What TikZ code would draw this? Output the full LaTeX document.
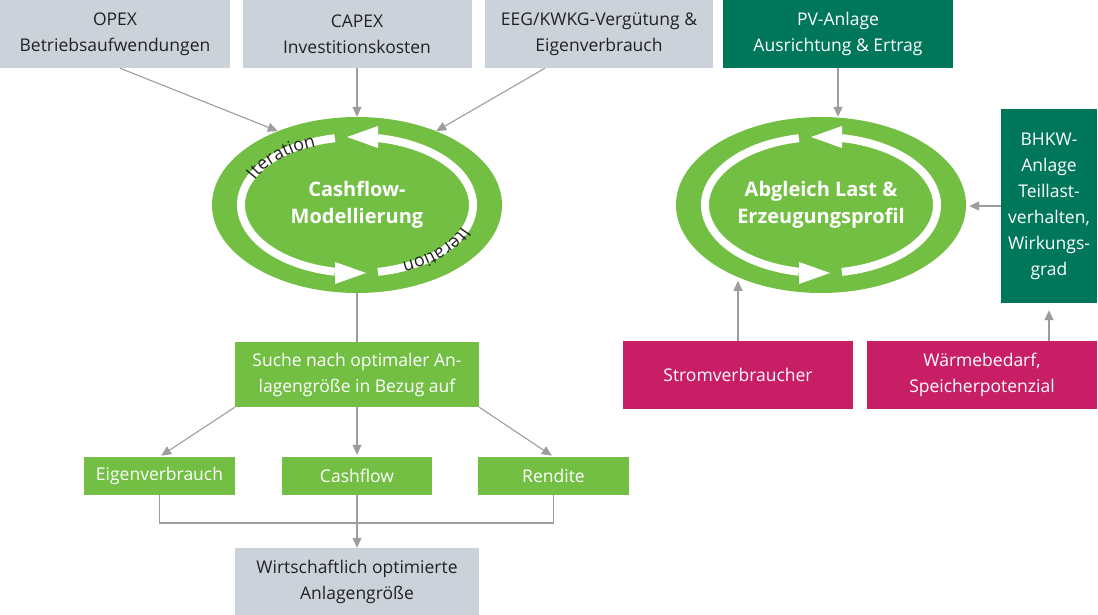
\documentclass[tikz,border=0pt]{standalone}
\usepackage{fontspec}
\setmainfont{Open Sans}
\usetikzlibrary{arrows.meta,shapes.geometric,decorations.text,calc}
\definecolor{boxgray}{HTML}{CBD2D9}
\definecolor{lightgreen}{HTML}{72BF44}
\definecolor{darkgreen}{HTML}{00775A}
\definecolor{magentabox}{HTML}{C81E65}
\definecolor{linegray}{HTML}{9D9D9D}
\definecolor{textdark}{HTML}{222222}
\tikzset{
  box/.style={rectangle, inner sep=2pt, align=center, font=\fontsize{17.5}{26}\selectfont},
  graybox/.style={box, fill=boxgray, text=textdark},
  dgbox/.style={box, fill=darkgreen, text=white},
  lgbox/.style={box, fill=lightgreen, text=white},
  mgbox/.style={box, fill=magentabox, text=white},
  arr/.style={draw=linegray, line width=1.1pt, -{Triangle[length=10pt,width=9pt]}},
  conn/.style={draw=linegray, line width=1.1pt},
  cyc/.style={ellipse, fill=lightgreen, minimum width=290pt, minimum height=176pt, inner sep=0pt, text=white, align=center, font=\bfseries\fontsize{20}{27}\selectfont},
  ringline/.style={draw=white, line width=8pt},
  itertext/.style={decorate, decoration={text along path, text align=center,
     text={|\fontsize{18}{18}\selectfont\color{textdark}|Iteration}}}
}
\newcommand\myring[1]{%
  \begin{scope}[shift={(#1.center)}]
    \draw[ringline] (-79.6:116pt and 68pt) arc[start angle=-79.6, end angle=79.6, x radius=116pt, y radius=68pt];
    \fill[white] (-10pt,68pt) -- (21pt,79pt) -- (21pt,57pt) -- cycle;
    \draw[ringline] (101:116pt and 68pt) arc[start angle=101, end angle=259, x radius=116pt, y radius=68pt];
    \fill[white] (9pt,-68pt) -- (-22pt,-57pt) -- (-22pt,-79pt) -- cycle;
  \end{scope}}
\begin{document}
\begin{tikzpicture}[x=1pt,y=1pt]
\useasboundingbox (0,0) rectangle (1098,-615);
% top boxes
\node[graybox, minimum width=230pt, minimum height=68pt] (opex) at (115,-34) {OPEX\\Betriebsaufwendungen};
\node[graybox, minimum width=229pt, minimum height=68pt] (capex) at (357,-34) {CAPEX\\Investitionskosten};
\node[graybox, minimum width=228pt, minimum height=68pt] (eeg) at (599,-34) {EEG/KWKG-Vergütung \&\\Eigenverbrauch};
\node[dgbox, minimum width=230pt, minimum height=68pt] (pv) at (838,-34) {PV-Anlage\\Ausrichtung \& Ertrag};
\node[dgbox, minimum width=96pt, minimum height=194pt] (bhkw) at (1049,-206) {BHKW-\\Anlage\\Teillast-\\verhalten,\\Wirkungs-\\grad};
% cycles
\node[cyc] (cf) at (357,-205) {Cashflow-\\Modellierung};
\node[cyc] (ab) at (821,-205) {Abgleich Last \&\\Erzeugungsprofil};
\myring{cf}
\myring{ab}
\path[itertext] ($(cf.center)+(161:111pt and 63pt)$) arc[start angle=161, end angle=109, x radius=111pt, y radius=63pt];
\path[itertext] ($(cf.center)+(-15:111pt and 63pt)$) arc[start angle=-15, end angle=-69, x radius=111pt, y radius=63pt];
% lower boxes
\node[mgbox, minimum width=230pt, minimum height=68pt] (strom) at (738,-375) {Stromverbraucher};
\node[mgbox, minimum width=230pt, minimum height=68pt] (waerme) at (982,-375) {Wärmebedarf,\\Speicherpotenzial};
\node[lgbox, minimum width=244pt, minimum height=65pt] (suche) at (357,-374.5) {Suche nach optimaler An-\\lagengröße in Bezug auf};
\node[lgbox, minimum width=151pt, minimum height=38pt] (eigen) at (159.5,-476) {Eigenverbrauch};
\node[lgbox, minimum width=150pt, minimum height=38pt] (cash) at (357,-476) {Cashflow};
\node[lgbox, minimum width=151pt, minimum height=38pt] (rendite) at (553.5,-476) {Rendite};
\node[graybox, minimum width=244pt, minimum height=67pt] (wirt) at (357,-581.5) {Wirtschaftlich optimierte\\Anlagengröße};
% connectors
\draw[arr] ($(opex.south)+(5,0)$) -- (cf.137);
\draw[arr] (capex.south) -- (cf.north);
\draw[arr] ($(eeg.south)+(-54,0)$) -- (cf.43);
\draw[arr] (pv.south) -- (pv.south |- ab.north);
\draw[arr, shorten >=3pt] (bhkw.west) -- (bhkw.west -| ab.east);
\draw[arr] (strom.north) -- ($(strom.north)+(0,60)$);
\draw[arr, shorten >=7pt] (waerme.north -| bhkw.south) -- (bhkw.south);
\draw[conn] (cf.south) -- (suche.north);
\draw[arr, shorten >=2pt] (suche.south west) -- (eigen.north);
\draw[arr, shorten >=2pt] (suche.south) -- (cash.north);
\draw[arr, shorten >=2pt] (suche.south east) -- (rendite.north);
\coordinate (j) at (357,-523);
\draw[conn] (eigen.south) |- (j) -| (rendite.south);
\draw[arr] (cash.south) -- (wirt.north);
\end{tikzpicture}
\end{document}
